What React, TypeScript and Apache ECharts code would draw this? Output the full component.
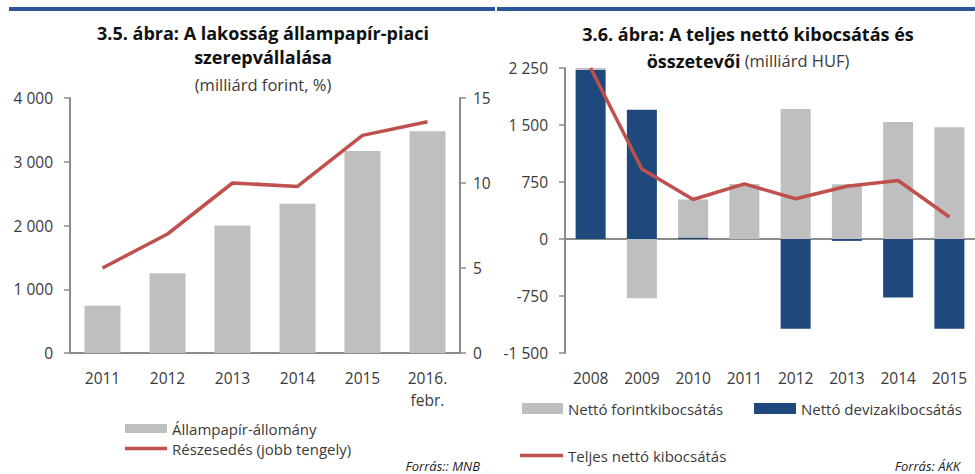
import React, { useEffect, useRef } from "react";
import * as echarts from "echarts";

const leftCategories = ["2011", "2012", "2013", "2014", "2015", "2016.\nfebr."];
const leftStock = [740, 1250, 2000, 2340, 3170, 3480];
const leftShare = [5.0, 7.0, 10.0, 9.8, 12.8, 13.6];

const rightCategories = ["2008", "2009", "2010", "2011", "2012", "2013", "2014", "2015"];
const rightForint = [25, -780, 500, 725, 1710, 720, 1540, 1470];
const rightDeviza = [2225, 1700, 20, 0, -1180, -25, -770, -1180];
const rightTotal = [2250, 920, 520, 725, 530, 695, 770, 290];

const NAME_STOCK = "Állampapír-állomány";
const NAME_SHARE = "Részesedés (jobb tengely)";
const NAME_FORINT = "Nettó forintkibocsátás";
const NAME_DEVIZA = "Nettó devizakibocsátás";
const NAME_TOTAL = "Teljes nettó kibocsátás";

const FONT = "Open Sans";
const GREY = "#bfbfbf";
const BLUE = "#1f497d";
const RED = "#c0504d";
const AXIS = "#8c8c8c";
const LABEL = "#3a3a3a";
const FS = 15.5;

const fmt = (v: number) => {
  const s = Math.abs(v).toString().replace(/\B(?=(\d{3})+(?!\d))/g, " ");
  return (v < 0 ? "-" : "") + s;
};

export default function App() {
  const ref = useRef<HTMLDivElement>(null);
  useEffect(() => {
    if (!ref.current) return;
    const chart = echarts.init(ref.current, undefined, { renderer: "svg" });
    const axisLabelBase = { color: LABEL, fontFamily: FONT, fontSize: FS };
    const legendText = { color: LABEL, fontFamily: FONT, fontSize: 15, lineHeight: 15 };
    const legendBase = { padding: 0, textStyle: legendText, selectedMode: false };
    chart.setOption({
      animation: false,
      backgroundColor: "#ffffff",
      textStyle: { fontFamily: FONT },
      title: [
        {
          left: 263,
          top: 21,
          padding: 0,
          textAlign: "center",
          text: "{b|3.5. ábra: A lakosság állampapír-piaci}\n{b|szerepvállalása}\n{n|(milliárd forint, %)}",
          textStyle: {
            fontWeight: "normal",
            rich: {
              b: { fontFamily: FONT, fontSize: 18, fontWeight: "bold", color: "#111", lineHeight: 24 },
              n: { fontFamily: FONT, fontSize: 16.5, fontWeight: "normal", color: LABEL, lineHeight: 30 },
            },
          },
        },
        {
          left: 748,
          top: 20,
          padding: 0,
          textAlign: "center",
          text: "{b|3.6. ábra: A teljes nettó kibocsátás és}\n{b|összetevői}{n| (milliárd HUF)}",
          textStyle: {
            fontWeight: "normal",
            rich: {
              b: { fontFamily: FONT, fontSize: 18, fontWeight: "bold", color: "#111", lineHeight: 27 },
              n: { fontFamily: FONT, fontSize: 16.5, fontWeight: "normal", color: LABEL, lineHeight: 27 },
            },
          },
        },
      ],
      legend: [
        { ...legendBase, data: [{ name: NAME_STOCK, icon: "rect" }], left: 125, top: 421, itemWidth: 42, itemHeight: 9 },
        { ...legendBase, data: [{ name: NAME_SHARE, icon: "rect" }], left: 125, top: 441, itemWidth: 42, itemHeight: 3.5 },
        { ...legendBase, data: [{ name: NAME_FORINT, icon: "rect" }], left: 522, top: 401, itemWidth: 41, itemHeight: 11 },
        { ...legendBase, data: [{ name: NAME_DEVIZA, icon: "rect" }], left: 754, top: 401, itemWidth: 42, itemHeight: 11 },
        { ...legendBase, data: [{ name: NAME_TOTAL, icon: "rect" }], left: 520, top: 448, itemWidth: 43, itemHeight: 3.5 },
      ],
      grid: [
        { left: 70, top: 98, width: 390, height: 255, containLabel: false },
        { left: 565, top: 68, width: 415, height: 285, containLabel: false },
      ],
      xAxis: [
        {
          type: "category",
          gridIndex: 0,
          data: leftCategories,
          axisLine: { show: true, lineStyle: { color: AXIS, width: 2 } },
          axisTick: { show: false },
          axisLabel: { ...axisLabelBase, margin: 14, lineHeight: 22, interval: 0 },
        },
        {
          type: "category",
          gridIndex: 1,
          position: "bottom",
          data: rightCategories,
          axisLine: { show: false, onZero: false },
          axisTick: { show: false },
          axisLabel: { ...axisLabelBase, margin: 14, lineHeight: 22, interval: 0 },
        },
        {
          type: "category",
          gridIndex: 1,
          position: "top",
          data: rightCategories,
          axisLine: { show: true, onZero: true, lineStyle: { color: AXIS, width: 2 } },
          axisTick: { show: false },
          axisLabel: { show: false },
        },
      ],
      yAxis: [
        {
          type: "value",
          gridIndex: 0,
          min: 0,
          max: 4000,
          interval: 1000,
          position: "left",
          axisLine: { show: true, lineStyle: { color: AXIS, width: 2 } },
          axisTick: { show: true, length: 6, lineStyle: { color: AXIS, width: 1.5 } },
          splitLine: { show: false },
          axisLabel: { ...axisLabelBase, margin: 17, formatter: fmt },
        },
        {
          type: "value",
          gridIndex: 0,
          min: 0,
          max: 15,
          interval: 5,
          position: "right",
          axisLine: { show: true, lineStyle: { color: AXIS, width: 2 } },
          axisTick: { show: true, length: 6, lineStyle: { color: AXIS, width: 1.5 } },
          splitLine: { show: false },
          axisLabel: { ...axisLabelBase, margin: 13 },
        },
        {
          type: "value",
          gridIndex: 1,
          min: -1500,
          max: 2250,
          interval: 750,
          position: "left",
          axisLine: { show: true, lineStyle: { color: AXIS, width: 2 } },
          axisTick: { show: true, length: 6, lineStyle: { color: AXIS, width: 1.5 } },
          splitLine: { show: false },
          axisLabel: { ...axisLabelBase, margin: 17, formatter: fmt },
        },
      ],
      series: [
        {
          name: NAME_STOCK,
          type: "bar",
          xAxisIndex: 0,
          yAxisIndex: 0,
          data: leftStock,
          barWidth: 36,
          itemStyle: { color: GREY },
        },
        {
          name: NAME_SHARE,
          type: "line",
          xAxisIndex: 0,
          yAxisIndex: 1,
          data: leftShare,
          symbol: "none",
          clip: false,
          lineStyle: { color: RED, width: 3.5 },
          itemStyle: { color: RED },
        },
        {
          name: NAME_DEVIZA,
          type: "bar",
          xAxisIndex: 1,
          yAxisIndex: 2,
          stack: "netto",
          data: rightDeviza,
          barWidth: 30,
          clip: false,
          itemStyle: { color: BLUE },
        },
        {
          name: NAME_FORINT,
          type: "bar",
          xAxisIndex: 1,
          yAxisIndex: 2,
          stack: "netto",
          data: rightForint,
          barWidth: 30,
          clip: false,
          itemStyle: { color: GREY },
        },
        {
          name: NAME_TOTAL,
          type: "line",
          xAxisIndex: 1,
          yAxisIndex: 2,
          data: rightTotal,
          symbol: "none",
          clip: false,
          lineStyle: { color: RED, width: 3.5 },
          itemStyle: { color: RED },
        },
      ],
      graphic: [
        { type: "rect", shape: { x: 9, y: 7, width: 486, height: 4 }, style: { fill: "#2b5797" } },
        { type: "rect", shape: { x: 497, y: 7, width: 478, height: 4 }, style: { fill: "#2b5797" } },
        {
          type: "text",
          x: 480,
          y: 466,
          style: {
            text: "Forrás:: MNB",
            font: `italic 13px "${FONT}"`,
            fill: "#222",
            align: "right",
            verticalAlign: "middle",
          },
        },
        {
          type: "text",
          x: 960,
          y: 466,
          style: {
            text: "Forrás: ÁKK",
            font: `italic 13px "${FONT}"`,
            fill: "#222",
            align: "right",
            verticalAlign: "middle",
          },
        },
      ],
    });
    return () => chart.dispose();
  }, []);
  return (
    <div
      ref={ref}
      style={{ position: "fixed", left: 0, top: 0, width: 975, height: 474, background: "#fff" }}
    />
  );
}
